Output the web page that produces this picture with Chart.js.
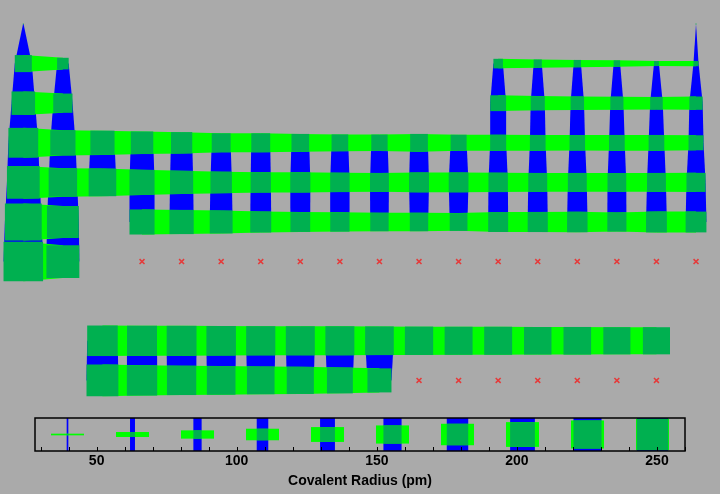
<!DOCTYPE html>
<html>
<head>
<meta charset="utf-8">
<script src="https://cdn.jsdelivr.net/npm/chart.js@4.4.1/dist/chart.umd.min.js"></script>
<style>
  html, body { margin: 0; padding: 0; background: #aaaaaa; }
  canvas { display: block; }
</style>
</head>
<body>
<canvas id="tableChart" width="720" height="410"></canvas>
<canvas id="scaleChart" width="720" height="84"></canvas>
<script>
// element symbols, in atomic number order
const symbols = [
  'H','He',
  'Li','Be','B','C','N','O','F','Ne',
  'Na','Mg','Al','Si','P','S','Cl','Ar',
  'K','Ca','Sc','Ti','V','Cr','Mn','Fe','Co','Ni','Cu','Zn','Ga','Ge','As','Se','Br','Kr',
  'Rb','Sr','Y','Zr','Nb','Mo','Tc','Ru','Rh','Pd','Ag','Cd','In','Sn','Sb','Te','I','Xe',
  'Cs','Ba','La','Ce','Pr','Nd','Pm','Sm','Eu','Gd','Tb','Dy','Ho','Er','Tm','Yb','Lu',
  'Hf','Ta','W','Re','Os','Ir','Pt','Au','Hg','Tl','Pb','Bi','Po','At','Rn',
  'Fr','Ra','Ac','Th','Pa','U','Np','Pu','Am','Cm','Bk','Cf','Es','Fm','Md','No','Lr',
  'Rf','Db','Sg','Bh','Hs','Mt','Ds','Rg','Cn','Nh','Fl','Mc','Lv','Ts','Og'
];

// covalent radius in pm (null = no value)
const radii = [
  31, 28,
  128, 96, 84, 76, 71, 66, 57, 58,
  166, 141, 121, 111, 107, 105, 102, 106,
  203, 176, 170, 160, 153, 139, 139, 132, 126, 124, 132, 122, 122, 120, 119, 120, 120, 116,
  220, 195, 190, 175, 164, 154, 147, 146, 142, 139, 145, 144, 142, 139, 139, 138, 139, 140,
  244, 215, 207, 204, 203, 201, 199, 198, 198, 196, 194, 192, 192, 189, 190, 187, 187,
  175, 170, 162, 151, 144, 141, 136, 136, 132, 145, 146, 148, 140, 150, 150,
  260, 221, 215, 206, 200, 196, 190, 187, 180, 169, null, null, null, null, null, null, null,
  null, null, null, null, null, null, null, null, null, null, null, null, null, null, null
];

// table column of each element
const groups = [
  1, 18,
  1, 2, 13, 14, 15, 16, 17, 18,
  1, 2, 13, 14, 15, 16, 17, 18,
  1, 2, 3, 4, 5, 6, 7, 8, 9, 10, 11, 12, 13, 14, 15, 16, 17, 18,
  1, 2, 3, 4, 5, 6, 7, 8, 9, 10, 11, 12, 13, 14, 15, 16, 17, 18,
  1, 2, 3, 4, 5, 6, 7, 8, 9, 10, 11, 12, 13, 14, 15, 16, 17,
  4, 5, 6, 7, 8, 9, 10, 11, 12, 13, 14, 15, 16, 17, 18,
  1, 2, 3, 4, 5, 6, 7, 8, 9, 10, 11, 12, 13, 14, 15, 16, 17,
  4, 5, 6, 7, 8, 9, 10, 11, 12, 13, 14, 15, 16, 17, 18
];

// table row of each element (9 and 10 are the f-block rows)
const periods = [
  1, 1,
  2, 2, 2, 2, 2, 2, 2, 2,
  3, 3, 3, 3, 3, 3, 3, 3,
  4, 4, 4, 4, 4, 4, 4, 4, 4, 4, 4, 4, 4, 4, 4, 4, 4, 4,
  5, 5, 5, 5, 5, 5, 5, 5, 5, 5, 5, 5, 5, 5, 5, 5, 5, 5,
  6, 6, 9, 9, 9, 9, 9, 9, 9, 9, 9, 9, 9, 9, 9, 9, 9,
  6, 6, 6, 6, 6, 6, 6, 6, 6, 6, 6, 6, 6, 6, 6,
  7, 7, 10, 10, 10, 10, 10, 10, 10, 10, 10, 10, 10, 10, 10, 10, 10,
  7, 7, 7, 7, 7, 7, 7, 7, 7, 7, 7, 7, 7, 7, 7
];

// radii shown in the scale legend
const legendRadii = [39.6, 62.8, 86.0, 109.2, 132.4, 155.6, 178.8, 202.0, 225.2, 248.4];

const known = radii.filter(r => r !== null);
const R_MIN = Math.min(...known);
const R_MAX = Math.max(...known);

function sizeOf(r, full) {
  return Math.max(0, (r - R_MIN) / (R_MAX - R_MIN)) * full;
}

const DARK = '#00b050';
const LIGHT = '#00ff00';
const BLUE = '#0000ff';

const lookup = {};
symbols.forEach((s, i) => {
  if (radii[i] !== null) lookup[groups[i] + ',' + periods[i]] = radii[i];
});

const present = [];
const missing = [];
symbols.forEach((s, i) => {
  const p = { x: groups[i], y: periods[i], r: radii[i], label: s };
  if (radii[i] === null) missing.push(p); else present.push(p);
});

function cellSize(chart) {
  const x = chart.scales.x;
  return x.getPixelForValue(2) - x.getPixelForValue(1);
}

const linkPlugin = {
  id: 'links',
  beforeDatasetsDraw(chart) {
    const { ctx, scales: { x, y } } = chart;
    const cell = cellSize(chart);
    ctx.save();

    // vertical links between rows
    ctx.fillStyle = BLUE;
    symbols.forEach((s, i) => {
      const r = radii[i];
      if (r === null) return;
      const below = lookup[groups[i] + ',' + (periods[i] + 1)];
      if (below === undefined) return;
      const cx = x.getPixelForValue(groups[i]);
      const y0 = y.getPixelForValue(periods[i]);
      const y1 = y.getPixelForValue(periods[i] + 1);
      const w0 = sizeOf(r, cell) / 2;
      const w1 = sizeOf(below, cell) / 2;
      ctx.beginPath();
      ctx.moveTo(cx - w0, y0);
      ctx.lineTo(cx + w0, y0);
      ctx.lineTo(cx + w1, y1);
      ctx.lineTo(cx - w1, y1);
      ctx.closePath();
      ctx.fill();
    });

    // horizontal links between columns
    ctx.fillStyle = LIGHT;
    symbols.forEach((s, i) => {
      const r = radii[i];
      if (r === null) return;
      const right = lookup[(groups[i] + 1) + ',' + periods[i]];
      if (right === undefined) return;
      const cy = y.getPixelForValue(periods[i]);
      const x0 = x.getPixelForValue(groups[i]);
      const x1 = x.getPixelForValue(groups[i] + 1);
      const h0 = sizeOf(r, cell) / 2;
      const h1 = sizeOf(right, cell) / 2;
      ctx.beginPath();
      ctx.moveTo(x0, cy - h0);
      ctx.lineTo(x1, cy - h1);
      ctx.lineTo(x1, cy + h1);
      ctx.lineTo(x0, cy + h0);
      ctx.closePath();
      ctx.fill();
    });

    ctx.restore();
  }
};

new Chart(document.getElementById('tableChart'), {
  type: 'scatter',
  data: {
    datasets: [
      {
        data: present,
        pointStyle: 'rect',
        backgroundColor: DARK,
        borderWidth: 0,
        pointRadius: c => Math.max(1, sizeOf(c.raw.r, cellSize(c.chart))) / Math.SQRT2,
        pointHoverRadius: c => Math.max(1, sizeOf(c.raw.r, cellSize(c.chart))) / Math.SQRT2
      },
      {
        data: missing,
        pointStyle: 'crossRot',
        borderColor: 'rgba(235, 45, 45, 0.9)',
        borderWidth: 1.5,
        pointRadius: 3.5
      }
    ]
  },
  options: {
    responsive: false,
    animation: false,
    layout: { padding: 0, autoPadding: false },
    plugins: { legend: { display: false }, tooltip: { enabled: false } },
    scales: {
      x: { type: 'linear', display: false, min: 0.411, max: 18.606 },
      y: { type: 'linear', display: false, reverse: true, min: 0.394, max: 10.748 }
    }
  },
  plugins: [linkPlugin]
});

const glyphPlugin = {
  id: 'glyphs',
  afterDraw(chart) {
    const { ctx, chartArea: a, scales: { x } } = chart;
    const h = a.bottom - a.top;
    const cy = (a.top + a.bottom) / 2;
    ctx.save();
    legendRadii.forEach(r => {
      const cx = x.getPixelForValue(r);
      const s = sizeOf(r, h);
      ctx.fillStyle = BLUE;
      ctx.fillRect(cx - s / 2, a.top, s, h);
      ctx.fillStyle = LIGHT;
      ctx.fillRect(cx - h / 2, cy - s / 2, h, s);
      ctx.fillStyle = DARK;
      ctx.fillRect(cx - s / 2, cy - s / 2, s, s);
    });
    ctx.strokeStyle = '#000000';
    ctx.lineWidth = 1.5;
    ctx.strokeRect(a.left, a.top, a.right - a.left, h);
    ctx.lineWidth = 1;
    x.ticks.forEach(t => {
      const px = Math.round(x.getPixelForValue(t.value)) + 0.5;
      ctx.beginPath();
      ctx.moveTo(px, a.bottom);
      ctx.lineTo(px, a.bottom - 4);
      ctx.stroke();
    });
    ctx.restore();
  }
};

new Chart(document.getElementById('scaleChart'), {
  type: 'scatter',
  data: { datasets: [{ data: [] }] },
  options: {
    responsive: false,
    animation: false,
    layout: { padding: { left: 35, right: 35, top: 8, bottom: 0 } },
    plugins: { legend: { display: false }, tooltip: { enabled: false } },
    scales: {
      x: {
        type: 'linear',
        min: R_MIN,
        max: R_MAX,
        grid: { display: false, drawTicks: false },
        border: { display: false },
        afterBuildTicks: scale => {
          const t = [];
          for (let v = 30; v <= 260; v += 10) t.push({ value: v });
          scale.ticks = t;
        },
        afterFit: scale => { scale.height = 43; },
        ticks: {
          autoSkip: false,
          maxRotation: 0,
          padding: 2,
          color: '#000000',
          font: { family: '"Liberation Sans", Arial, sans-serif', size: 14, weight: 'bold' },
          callback: v => (v % 50 === 0 ? v : '')
        },
        title: {
          display: true,
          text: 'Covalent Radius (pm)',
          color: '#000000',
          padding: { top: 0, bottom: 4 },
          font: { family: '"Liberation Sans", Arial, sans-serif', size: 14, weight: 'bold' }
        }
      },
      y: { display: false, min: 0, max: 1 }
    }
  },
  plugins: [glyphPlugin]
});
</script>
</body>
</html>
